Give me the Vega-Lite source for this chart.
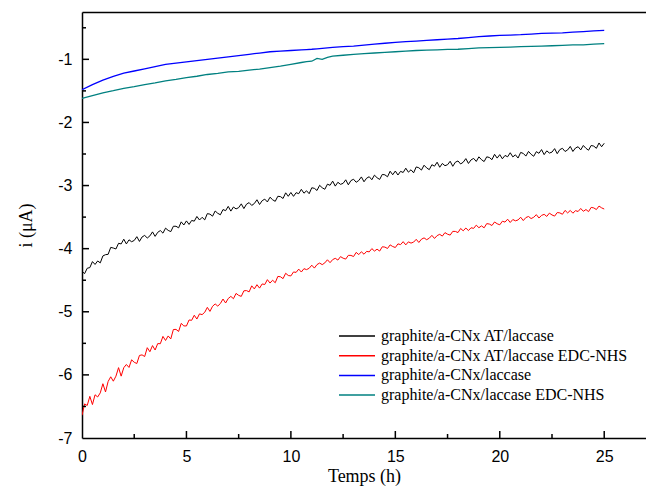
{
  "$schema": "https://vega.github.io/schema/vega-lite/v6.json",
  "autosize": {"type": "none"},
  "padding": {"left": 82, "top": 12, "right": 0, "bottom": 57},
  "width": 564,
  "height": 426,
  "config": {"view": {"stroke": null}, "background": "white"},
  "datasets": {
    "ab": [
      {"t":0,"a":-4.36,"b":-6.64},{"t":0.125,"a":-4.395,"b":-6.46},{"t":0.25,"a":-4.31,"b":-6.485},{"t":0.375,"a":-4.30,"b":-6.34},
      {"t":0.5,"a":-4.205,"b":-6.47},{"t":0.625,"a":-4.25,"b":-6.315},{"t":0.75,"a":-4.195,"b":-6.35},{"t":0.875,"a":-4.225,"b":-6.285},
      {"t":1,"a":-4.115,"b":-6.14},{"t":1.125,"a":-4.095,"b":-6.27},{"t":1.25,"a":-4.09,"b":-6.105},{"t":1.375,"a":-3.98,"b":-6.03},
      {"t":1.5,"a":-3.99,"b":-6.10},{"t":1.625,"a":-4.005,"b":-6.02},{"t":1.75,"a":-3.915,"b":-5.885},{"t":1.875,"a":-3.925,"b":-6.02},
      {"t":2,"a":-3.85,"b":-5.886},{"t":2.125,"a":-3.925,"b":-5.835},{"t":2.25,"a":-3.86,"b":-5.882},{"t":2.375,"a":-3.89,"b":-5.761},
      {"t":2.5,"a":-3.87,"b":-5.80},{"t":2.625,"a":-3.81,"b":-5.82},{"t":2.75,"a":-3.885,"b":-5.692},{"t":2.875,"a":-3.815,"b":-5.683},
      {"t":3,"a":-3.79,"b":-5.709},{"t":3.125,"a":-3.831,"b":-5.569},{"t":3.25,"a":-3.798,"b":-5.633},{"t":3.375,"a":-3.734,"b":-5.536},
      {"t":3.5,"a":-3.805,"b":-5.606},{"t":3.625,"a":-3.741,"b":-5.504},{"t":3.75,"a":-3.713,"b":-5.506},{"t":3.875,"a":-3.754,"b":-5.39},
      {"t":4,"a":-3.675,"b":-5.455},{"t":4.125,"a":-3.71,"b":-5.383},{"t":4.25,"a":-3.73,"b":-5.43},{"t":4.375,"a":-3.645,"b":-5.281},
      {"t":4.5,"a":-3.645,"b":-5.279},{"t":4.625,"a":-3.67,"b":-5.312},{"t":4.75,"a":-3.575,"b":-5.184},{"t":4.875,"a":-3.625,"b":-5.224},
      {"t":5,"a":-3.56,"b":-5.225},{"t":5.125,"a":-3.616,"b":-5.13},{"t":5.25,"a":-3.553,"b":-5.135},{"t":5.375,"a":-3.564,"b":-5.055},
      {"t":5.5,"a":-3.49,"b":-5.115},{"t":5.625,"a":-3.546,"b":-5.033},{"t":5.75,"a":-3.503,"b":-5.045},{"t":5.875,"a":-3.544,"b":-5.008},
      {"t":6,"a":-3.445,"b":-4.93},{"t":6.125,"a":-3.453,"b":-4.994},{"t":6.25,"a":-3.485,"b":-4.913},{"t":6.375,"a":-3.403,"b":-4.876},
      {"t":6.5,"a":-3.44,"b":-4.91},{"t":6.625,"a":-3.463,"b":-4.869},{"t":6.75,"a":-3.38,"b":-4.798},{"t":6.875,"a":-3.398,"b":-4.861},
      {"t":7,"a":-3.33,"b":-4.79},{"t":7.125,"a":-3.405,"b":-4.756},{"t":7.25,"a":-3.34,"b":-4.793},{"t":7.375,"a":-3.37,"b":-4.709},
      {"t":7.5,"a":-3.35,"b":-4.74},{"t":7.625,"a":-3.29,"b":-4.756},{"t":7.75,"a":-3.365,"b":-4.668},{"t":7.875,"a":-3.295,"b":-4.664},
      {"t":8,"a":-3.27,"b":-4.685},{"t":8.125,"a":-3.315,"b":-4.589},{"t":8.25,"a":-3.285,"b":-4.638},{"t":8.375,"a":-3.225,"b":-4.571},
      {"t":8.5,"a":-3.30,"b":-4.625},{"t":8.625,"a":-3.24,"b":-4.559},{"t":8.75,"a":-3.215,"b":-4.568},{"t":8.875,"a":-3.26,"b":-4.491},
      {"t":9,"a":-3.185,"b":-4.545},{"t":9.125,"a":-3.225,"b":-4.50},{"t":9.25,"a":-3.25,"b":-4.54},{"t":9.375,"a":-3.17,"b":-4.44},
      {"t":9.5,"a":-3.175,"b":-4.445},{"t":9.625,"a":-3.205,"b":-4.475},{"t":9.75,"a":-3.115,"b":-4.39},{"t":9.875,"a":-3.17,"b":-4.425},
      {"t":10,"a":-3.11,"b":-4.432},{"t":10.125,"a":-3.171,"b":-4.369},{"t":10.25,"a":-3.113,"b":-4.376},{"t":10.375,"a":-3.129,"b":-4.324},
      {"t":10.5,"a":-3.06,"b":-4.37},{"t":10.625,"a":-3.121,"b":-4.317},{"t":10.75,"a":-3.083,"b":-4.332},{"t":10.875,"a":-3.129,"b":-4.311},
      {"t":11,"a":-3.035,"b":-4.262},{"t":11.125,"a":-3.044,"b":-4.308},{"t":11.25,"a":-3.078,"b":-4.252},{"t":11.375,"a":-2.996,"b":-4.228},
      {"t":11.5,"a":-3.035,"b":-4.253},{"t":11.625,"a":-3.059,"b":-4.225},{"t":11.75,"a":-2.978,"b":-4.176},{"t":11.875,"a":-2.996,"b":-4.222},
      {"t":12,"a":-2.93,"b":-4.173},{"t":12.125,"a":-3.009,"b":-4.153},{"t":12.25,"a":-2.948,"b":-4.181},{"t":12.375,"a":-2.981,"b":-4.126},
      {"t":12.5,"a":-2.965,"b":-4.151},{"t":12.625,"a":-2.909,"b":-4.165},{"t":12.75,"a":-2.988,"b":-4.106},{"t":12.875,"a":-2.921,"b":-4.107},
      {"t":13,"a":-2.90,"b":-4.125},{"t":13.125,"a":-2.948,"b":-4.059},{"t":13.25,"a":-2.92,"b":-4.094},{"t":13.375,"a":-2.863,"b":-4.049},
      {"t":13.5,"a":-2.94,"b":-4.088},{"t":13.625,"a":-2.883,"b":-4.043},{"t":13.75,"a":-2.86,"b":-4.051},{"t":13.875,"a":-2.908,"b":-3.999},
      {"t":14,"a":-2.835,"b":-4.038},{"t":14.125,"a":-2.876,"b":-4.008},{"t":14.25,"a":-2.903,"b":-4.038},{"t":14.375,"a":-2.824,"b":-3.97},
      {"t":14.5,"a":-2.83,"b":-3.975},{"t":14.625,"a":-2.861,"b":-3.997},{"t":14.75,"a":-2.773,"b":-3.94},{"t":14.875,"a":-2.829,"b":-3.966},
      {"t":15,"a":-2.77,"b":-3.982},{"t":15.125,"a":-2.833,"b":-3.924},{"t":15.25,"a":-2.775,"b":-3.936},{"t":15.375,"a":-2.793,"b":-3.889},
      {"t":15.5,"a":-2.725,"b":-3.94},{"t":15.625,"a":-2.788,"b":-3.892},{"t":15.75,"a":-2.75,"b":-3.912},{"t":15.875,"a":-2.798,"b":-3.896},
      {"t":16,"a":-2.705,"b":-3.852},{"t":16.125,"a":-2.718,"b":-3.902},{"t":16.25,"a":-2.755,"b":-3.85},{"t":16.375,"a":-2.678,"b":-3.829},
      {"t":16.5,"a":-2.72,"b":-3.858},{"t":16.625,"a":-2.748,"b":-3.834},{"t":16.75,"a":-2.67,"b":-3.789},{"t":16.875,"a":-2.693,"b":-3.838},
      {"t":17,"a":-2.63,"b":-3.793},{"t":17.125,"a":-2.71,"b":-3.773},{"t":17.25,"a":-2.65,"b":-3.801},{"t":17.375,"a":-2.685,"b":-3.746},
      {"t":17.5,"a":-2.67,"b":-3.771},{"t":17.625,"a":-2.615,"b":-3.785},{"t":17.75,"a":-2.695,"b":-3.726},{"t":17.875,"a":-2.63,"b":-3.727},
      {"t":18,"a":-2.61,"b":-3.745},{"t":18.125,"a":-2.658,"b":-3.68},{"t":18.25,"a":-2.63,"b":-3.717},{"t":18.375,"a":-2.573,"b":-3.673},
      {"t":18.5,"a":-2.65,"b":-3.713},{"t":18.625,"a":-2.593,"b":-3.669},{"t":18.75,"a":-2.57,"b":-3.678},{"t":18.875,"a":-2.618,"b":-3.627},
      {"t":19,"a":-2.545,"b":-3.668},{"t":19.125,"a":-2.59,"b":-3.639},{"t":19.25,"a":-2.62,"b":-3.67},{"t":19.375,"a":-2.545,"b":-3.603},
      {"t":19.5,"a":-2.555,"b":-3.61},{"t":19.625,"a":-2.59,"b":-3.633},{"t":19.75,"a":-2.505,"b":-3.577},{"t":19.875,"a":-2.565,"b":-3.605},
      {"t":20,"a":-2.51,"b":-3.622},{"t":20.125,"a":-2.576,"b":-3.565},{"t":20.25,"a":-2.523,"b":-3.579},{"t":20.375,"a":-2.544,"b":-3.533},
      {"t":20.5,"a":-2.48,"b":-3.585},{"t":20.625,"a":-2.546,"b":-3.538},{"t":20.75,"a":-2.513,"b":-3.559},{"t":20.875,"a":-2.564,"b":-3.545},
      {"t":21,"a":-2.475,"b":-3.502},{"t":21.125,"a":-2.491,"b":-3.555},{"t":21.25,"a":-2.533,"b":-3.507},{"t":21.375,"a":-2.459,"b":-3.49},
      {"t":21.5,"a":-2.505,"b":-3.523},{"t":21.625,"a":-2.536,"b":-3.502},{"t":21.75,"a":-2.463,"b":-3.461},{"t":21.875,"a":-2.489,"b":-3.514},
      {"t":22,"a":-2.43,"b":-3.473},{"t":22.125,"a":-2.51,"b":-3.456},{"t":22.25,"a":-2.45,"b":-3.489},{"t":22.375,"a":-2.485,"b":-3.437},
      {"t":22.5,"a":-2.47,"b":-3.466},{"t":22.625,"a":-2.415,"b":-3.484},{"t":22.75,"a":-2.495,"b":-3.428},{"t":22.875,"a":-2.43,"b":-3.433},
      {"t":23,"a":-2.41,"b":-3.455},{"t":23.125,"a":-2.46,"b":-3.394},{"t":23.25,"a":-2.435,"b":-3.434},{"t":23.375,"a":-2.38,"b":-3.394},
      {"t":23.5,"a":-2.46,"b":-3.438},{"t":23.625,"a":-2.405,"b":-3.398},{"t":23.75,"a":-2.385,"b":-3.411},{"t":23.875,"a":-2.435,"b":-3.363},
      {"t":24,"a":-2.365,"b":-3.408},{"t":24.125,"a":-2.41,"b":-3.38},{"t":24.25,"a":-2.44,"b":-3.413},{"t":24.375,"a":-2.365,"b":-3.346},
      {"t":24.5,"a":-2.375,"b":-3.354},{"t":24.625,"a":-2.41,"b":-3.38},{"t":24.75,"a":-2.325,"b":-3.325},{"t":24.875,"a":-2.385,"b":-3.353},
      {"t":25,"a":-2.33,"b":-3.372}
    ],
    "cd": [
      {"t":0,"c":-1.48,"d":-1.62},{"t":0.5,"c":-1.40,"d":-1.575},{"t":1,"c":-1.33,"d":-1.53},{"t":1.5,"c":-1.27,"d":-1.497},
      {"t":2,"c":-1.22,"d":-1.46},{"t":2.5,"c":-1.185,"d":-1.432},{"t":3,"c":-1.15,"d":-1.40},{"t":3.5,"c":-1.115,"d":-1.372},
      {"t":4,"c":-1.08,"d":-1.34},{"t":4.5,"c":-1.06,"d":-1.318},{"t":5,"c":-1.04,"d":-1.29},{"t":5.5,"c":-1.02,"d":-1.268},
      {"t":6,"c":-1.00,"d":-1.24},{"t":6.5,"c":-0.98,"d":-1.222},{"t":7,"c":-0.96,"d":-1.20},{"t":7.5,"c":-0.94,"d":-1.19},
      {"t":8,"c":-0.92,"d":-1.17},{"t":8.5,"c":-0.90,"d":-1.155},{"t":9,"c":-0.88,"d":-1.13},{"t":9.5,"c":-0.87,"d":-1.108},
      {"t":10,"c":-0.86,"d":-1.08},{"t":10.5,"c":-0.85,"d":-1.05},{"t":10.75,"c":-0.845,"d":-1.035},{"t":11,"c":-0.84,"d":-1.03},
      {"t":11.25,"c":-0.833,"d":-0.985},{"t":11.5,"c":-0.825,"d":-1.0},{"t":11.75,"c":-0.818,"d":-0.97},{"t":12,"c":-0.81,"d":-0.95},
      {"t":12.5,"c":-0.80,"d":-0.935},{"t":13,"c":-0.79,"d":-0.92},{"t":13.5,"c":-0.775,"d":-0.91},{"t":14,"c":-0.76,"d":-0.90},
      {"t":14.5,"c":-0.745,"d":-0.89},{"t":15,"c":-0.73,"d":-0.88},{"t":15.5,"c":-0.72,"d":-0.87},{"t":16,"c":-0.71,"d":-0.86},
      {"t":16.5,"c":-0.70,"d":-0.855},{"t":17,"c":-0.69,"d":-0.85},{"t":17.5,"c":-0.68,"d":-0.843},{"t":18,"c":-0.67,"d":-0.84},
      {"t":18.5,"c":-0.655,"d":-0.83},{"t":19,"c":-0.64,"d":-0.82},{"t":19.5,"c":-0.63,"d":-0.815},{"t":20,"c":-0.62,"d":-0.81},
      {"t":20.5,"c":-0.615,"d":-0.805},{"t":21,"c":-0.61,"d":-0.80},{"t":21.5,"c":-0.60,"d":-0.795},{"t":22,"c":-0.59,"d":-0.79},
      {"t":22.5,"c":-0.585,"d":-0.785},{"t":23,"c":-0.58,"d":-0.78},{"t":23.5,"c":-0.57,"d":-0.772},{"t":24,"c":-0.56,"d":-0.77},
      {"t":24.5,"c":-0.55,"d":-0.76},{"t":25,"c":-0.54,"d":-0.75}
    ],
    "txMajor": [{"v":5},{"v":10},{"v":15},{"v":20},{"v":25}],
    "txMinor": [{"v":2.5},{"v":7.5},{"v":12.5},{"v":17.5},{"v":22.5}],
    "tyMajor": [{"v":-6},{"v":-5},{"v":-4},{"v":-3},{"v":-2},{"v":-1}],
    "tyMinor": [{"v":-6.5},{"v":-5.5},{"v":-4.5},{"v":-3.5},{"v":-2.5},{"v":-1.5},{"v":-0.5}]
  },
  "resolve": {"axis": {"x": "independent", "y": "independent"}},
  "layer": [
    {
      "data": {"name": "ab"},
      "transform": [{"fold": ["a", "b"], "as": ["s", "i"]}],
      "mark": {"type": "line", "strokeWidth": 1, "clip": true},
      "encoding": {
        "x": {"field": "t", "type": "quantitative",
          "scale": {"domain": [0, 27], "nice": false, "zero": false},
          "axis": {"orient": "bottom", "values": [0, 5, 10, 15, 20, 25], "grid": false, "ticks": false, "labelFlush": false,
            "domainColor": "#000", "domainWidth": 1.5,
            "labelFont": "Liberation Sans", "labelFontSize": 16, "labelColor": "#000", "labelPadding": 10,
            "title": "Temps (h)", "titleFont": "Liberation Serif", "titleFontSize": 18,
            "titleFontWeight": "normal", "titleColor": "#000", "titlePadding": 3}},
        "y": {"field": "i", "type": "quantitative",
          "scale": {"domain": [-7, -0.25], "nice": false, "zero": false},
          "axis": {"orient": "left", "values": [-7, -6, -5, -4, -3, -2, -1], "grid": false, "ticks": false, "labelFlush": false,
            "domainColor": "#000", "domainWidth": 1.5, "labelExpr": "toString(datum.value)",
            "labelFont": "Liberation Sans", "labelFontSize": 16, "labelColor": "#000", "labelPadding": 10,
            "title": "i (μA)", "titleFont": "Liberation Serif", "titleFontSize": 18,
            "titleFontWeight": "normal", "titleColor": "#000", "titlePadding": 22}},
        "color": {"field": "s", "type": "nominal",
          "scale": {"domain": ["a", "b", "c", "d"], "range": ["#000000", "#ff0000", "#0000ff", "#008080"]},
          "legend": {"orient": "none", "legendX": 264, "legendY": 313, "title": null, "padding": 0,
            "symbolType": "M-1.8,0H1.8", "symbolSize": 400, "symbolStrokeWidth": 1.5,
            "labelOffset": 13, "rowPadding": 0.7,
            "labelFont": "Liberation Serif", "labelFontSize": 16, "labelColor": "#000", "labelLimit": 400,
            "labelExpr": "{'a': 'graphite/a-CNx AT/laccase', 'b': 'graphite/a-CNx AT/laccase EDC-NHS', 'c': 'graphite/a-CNx/laccase', 'd': 'graphite/a-CNx/laccase EDC-NHS'}[datum.label]"}}
      }
    },
    {
      "data": {"name": "cd"},
      "transform": [{"fold": ["c", "d"], "as": ["s", "i"]}],
      "mark": {"type": "line", "strokeWidth": 1.3, "clip": true},
      "encoding": {
        "x": {"field": "t", "type": "quantitative", "axis": null},
        "y": {"field": "i", "type": "quantitative", "axis": null},
        "color": {"field": "s", "type": "nominal",
          "scale": {"domain": ["a", "b", "c", "d"], "range": ["#000000", "#ff0000", "#0000ff", "#008080"]},
          "legend": {"orient": "none", "legendX": 264, "legendY": 313, "title": null, "padding": 0,
            "symbolType": "M-1.8,0H1.8", "symbolSize": 400, "symbolStrokeWidth": 1.5,
            "labelOffset": 13, "rowPadding": 0.7,
            "labelFont": "Liberation Serif", "labelFontSize": 16, "labelColor": "#000", "labelLimit": 400,
            "labelExpr": "{'a': 'graphite/a-CNx AT/laccase', 'b': 'graphite/a-CNx AT/laccase EDC-NHS', 'c': 'graphite/a-CNx/laccase', 'd': 'graphite/a-CNx/laccase EDC-NHS'}[datum.label]"}}
      }
    },
    {
      "data": {"name": "txMajor"},
      "mark": {"type": "tick", "orient": "vertical", "size": 7, "thickness": 1.5, "color": "#000", "opacity": 1, "yOffset": -3.5},
      "encoding": {
        "x": {"field": "v", "type": "quantitative", "axis": null},
        "y": {"datum": -7, "type": "quantitative", "axis": null}
      }
    },
    {
      "data": {"name": "txMinor"},
      "mark": {"type": "tick", "orient": "vertical", "size": 4, "thickness": 1.5, "color": "#000", "opacity": 1, "yOffset": -2},
      "encoding": {
        "x": {"field": "v", "type": "quantitative", "axis": null},
        "y": {"datum": -7, "type": "quantitative", "axis": null}
      }
    },
    {
      "data": {"name": "tyMajor"},
      "mark": {"type": "rule", "strokeWidth": 1.5, "color": "#000", "opacity": 1, "x2Offset": 7},
      "encoding": {
        "y": {"field": "v", "type": "quantitative", "axis": null},
        "x": {"datum": 0, "type": "quantitative", "axis": null},
        "x2": {"datum": 0}
      }
    },
    {
      "data": {"name": "tyMinor"},
      "mark": {"type": "rule", "strokeWidth": 1.5, "color": "#000", "opacity": 1, "x2Offset": 4},
      "encoding": {
        "y": {"field": "v", "type": "quantitative", "axis": null},
        "x": {"datum": 0, "type": "quantitative", "axis": null},
        "x2": {"datum": 0}
      }
    },
    {
      "data": {"name": "cd"},
      "transform": [{"fold": ["c", "d"], "as": ["s", "i"]}],
      "mark": {"type": "point", "opacity": 0},
      "encoding": {
        "x": {"field": "t", "type": "quantitative",
          "axis": {"orient": "top", "values": [], "grid": false, "ticks": false, "labels": false,
            "domainColor": "#000", "domainWidth": 1.5, "title": null}},
        "y": {"field": "i", "type": "quantitative", "axis": null}
      }
    }
  ]
}
